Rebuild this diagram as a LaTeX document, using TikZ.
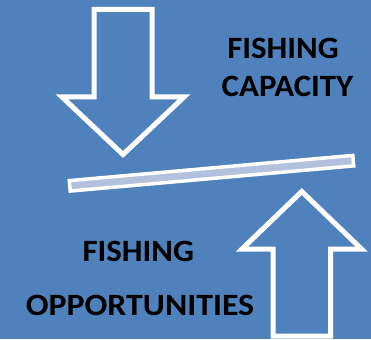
\documentclass[tikz,border=0pt]{standalone}
\usepackage{fontspec}
\setmainfont{Carlito}
\definecolor{bgblue}{HTML}{4F81BD}
\definecolor{barfill}{HTML}{B3C1DE}
\newcommand{\wide}[2][1.06]{\scalebox{#1}[1]{#2}}
\begin{document}
\begin{tikzpicture}[x=1pt,y=-1pt,
  arrowshape/.style={draw=white, line width=5pt, miter limit=10},
  label/.style={font=\bfseries\fontsize{31}{31}\selectfont, text=black, inner sep=0pt, anchor=base}]
\fill[bgblue] (0,0) rectangle (371,339);
\useasboundingbox (0,0) rectangle (371,339);
% down arrow
\draw[arrowshape] (94,9.5) -- (152,9.5) -- (152,97) -- (184,97) -- (123,154.5) -- (62,97) -- (94,97) -- cycle;
% up arrow
\draw[arrowshape] (273,336) -- (273,249) -- (242,249) -- (301.75,191.5) -- (361.5,249) -- (330.5,249) -- (330.5,336) -- cycle;
% bar
\node[draw=white, line width=3.5pt, fill=barfill, inner sep=0pt, minimum width=284.6pt, minimum height=10.5pt, rotate=5.08] (bar) at (211.5,173.25) {};
% texts
\node[label] (fc1) at (283,58.3) {\wide{FISHING}};
\node[label] (fc2) at (287.5,96.7) {\wide{CAPACITY}};
\node[label] (fo1) at (138.3,261.7) {\wide{FISHING}};
\node[label] (fo2) at (140,315) {\wide[1.09]{OPPORTUNITIES}};
\end{tikzpicture}
\end{document}
